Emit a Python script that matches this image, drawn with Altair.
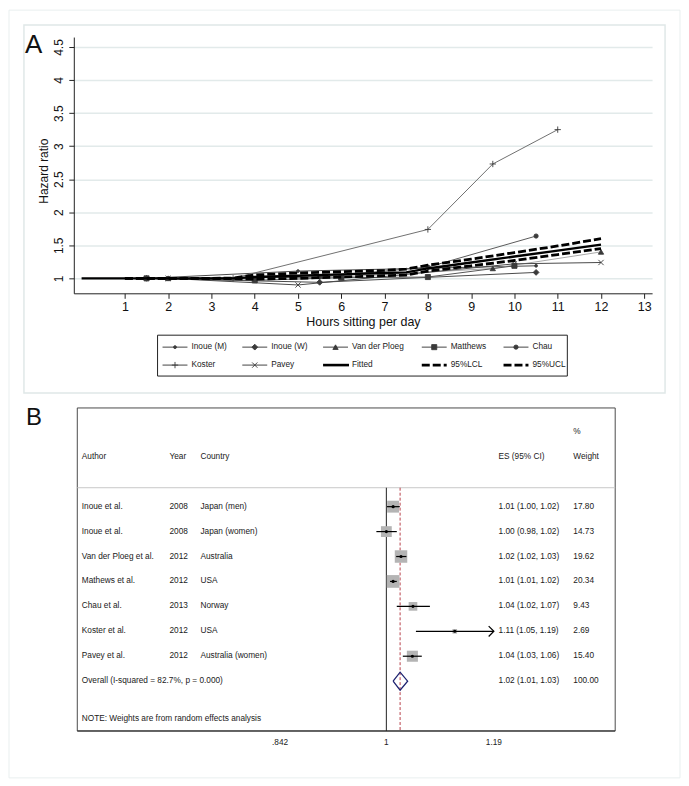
import altair as alt
import pandas as pd

FONT = "Liberation Sans"

# ---------------- Panel A data ----------------
series_names = ["Inoue (M)", "Inoue (W)", "Van der Ploeg", "Matthews", "Chau", "Koster", "Pavey"]
inoue_m_hours = [1.5, 5, 10.5]
inoue_m_hr = [1.00, 1.11, 1.19]
inoue_w_hours = [1.5, 5.5, 10.5]
inoue_w_hr = [1.00, 0.94, 1.09]
vdp_hours = [2, 6, 9.5, 12]
vdp_hr = [1.00, 1.02, 1.15, 1.40]
matthews_hours = [1.5, 4, 6, 8, 10]
matthews_hr = [1.00, 0.97, 1.01, 1.02, 1.19]
chau_hours = [2, 5.5, 8, 10.5]
chau_hr = [1.00, 1.02, 1.17, 1.64]
koster_hours = [3.5, 8, 9.5, 11]
koster_hr = [1.00, 1.74, 2.73, 3.25]
pavey_hours = [2, 5, 10, 12]
pavey_hr = [1.00, 0.90, 1.22, 1.24]

fit_hours = [0, 1, 2, 3, 3.5, 4, 5, 6, 7, 7.5, 8, 9, 10, 11, 12]
fit_hr = [1.00, 1.00, 1.00, 1.00, 1.00, 1.02, 1.04, 1.06, 1.08, 1.09, 1.15, 1.24, 1.33, 1.42, 1.51]
ci_hours = [1, 2, 3, 3.5, 4, 5, 6, 7, 7.5, 8, 9, 10, 11, 12]
lcl_hr = [1.00, 1.00, 1.00, 0.995, 0.99, 1.00, 1.02, 1.04, 1.05, 1.11, 1.19, 1.27, 1.36, 1.45]
ucl_hr = [1.00, 1.00, 1.00, 1.005, 1.05, 1.08, 1.10, 1.12, 1.14, 1.20, 1.29, 1.39, 1.49, 1.60]

legend_labels = series_names + ["Fitted", "95%LCL", "95%UCL"]
x_ticks = list(range(1, 14))
y_ticks = [1, 1.5, 2, 2.5, 3, 3.5, 4, 4.5]

# ---------------- Panel B data ----------------
authors = ["Inoue et al.", "Inoue et al.", "Van der Ploeg et al.", "Mathews et al.",
           "Chau et al.", "Koster et al.", "Pavey et al."]
years = ["2008", "2008", "2012", "2012", "2013", "2012", "2012"]
countries = ["Japan (men)", "Japan (women)", "Australia", "USA", "Norway", "USA", "Australia (women)"]
es = [1.011, 1.000, 1.024, 1.011, 1.044, 1.117, 1.043]
ci_low = [1.001, 0.984, 1.016, 1.006, 1.017, 1.049, 1.027]
ci_high = [1.022, 1.017, 1.033, 1.017, 1.073, 1.19, 1.059]
weights = [17.80, 14.73, 19.62, 20.34, 9.43, 2.69, 15.40]
es_labels = ["1.01 (1.00, 1.02)", "1.00 (0.98, 1.02)", "1.02 (1.02, 1.03)", "1.01 (1.01, 1.02)",
             "1.04 (1.02, 1.07)", "1.11 (1.05, 1.19)", "1.04 (1.03, 1.06)"]
weight_labels = ["17.80", "14.73", "19.62", "20.34", "9.43", "2.69", "15.40"]
overall_label = "Overall  (I-squared = 82.7%, p = 0.000)"
overall_es, overall_low, overall_high = 1.0225, 1.011, 1.035
overall_es_label = "1.02 (1.01, 1.03)"
overall_weight_label = "100.00"
note_text = "NOTE: Weights are from random effects analysis"
header_labels = ["Author", "Year", "Country", "ES (95% CI)", "Weight"]
forest_ticks = [0.842, 1, 1.19]
forest_tick_labels = [".842", "1", "1.19"]

# ---------------- styles ----------------
line_colors = ["#4a4a4a", "#4a4a4a", "#a8a8a8", "#555555", "#5a5a5a", "#707070", "#4a4a4a"]
marker_shapes = ["circle", "diamond", "triangle-up", "square", "circle",
                 "M-1,0H1M0,-1V1", "M-1,-1L1,1M-1,1L1,-1"]
marker_sizes = [8, 34, 28, 26, 18, 40, 28]
MCOL = "#3a3a3a"

# ---------------- Panel A ----------------
xA_axis = alt.Axis(orient="bottom", values=x_ticks, title="Hours sitting per day", grid=False,
                   tickSize=5, labelFontSize=12.5, labelPadding=2, labelFlush=False,
                   titleFontSize=12.5, titleFontWeight="normal", titleY=28, titleBaseline="middle",
                   domainColor="#222222", tickColor="#222222", labelColor="#111111", titleColor="#111111",
                   labelFont=FONT, titleFont=FONT)
yA_axis = alt.Axis(orient="left", values=y_ticks, title="Hazard ratio", grid=True, gridColor="#e2eaea",
                   gridWidth=1.5, tickSize=5, labelAngle=270, labelAlign="center", labelBaseline="bottom",
                   labelPadding=3, labelFontSize=12, format="~g",
                   titleFontSize=12, titleFontWeight="normal", titleAngle=270, titleX=-30, titleY=134,
                   titleAlign="center", titleBaseline="middle",
                   domainColor="#222222", tickColor="#222222", labelColor="#111111", titleColor="#111111",
                   labelFont=FONT, titleFont=FONT)
xA = alt.X("hours:Q", scale=alt.Scale(domain=[-0.18, 13.18], nice=False, zero=False), axis=xA_axis)
yA = alt.Y("hr:Q", scale=alt.Scale(domain=[0.774, 4.65], nice=False, zero=False), axis=yA_axis)

study_hours = [inoue_m_hours, inoue_w_hours, vdp_hours, matthews_hours, chau_hours, koster_hours, pavey_hours]
study_hr = [inoue_m_hr, inoue_w_hr, vdp_hr, matthews_hr, chau_hr, koster_hr, pavey_hr]

a_layers = []
for name, hs, vs, col in zip(series_names, study_hours, study_hr, line_colors):
    df = pd.DataFrame({"hours": hs, "hr": vs, "series": name})
    a_layers.append(alt.Chart(df).mark_line(color=col, strokeWidth=1).encode(x=xA, y=yA))
for name, hs, vs, shp, sz in zip(series_names, study_hours, study_hr, marker_shapes, marker_sizes):
    df = pd.DataFrame({"hours": hs, "hr": vs, "series": name})
    a_layers.append(alt.Chart(df).mark_point(shape=shp, size=sz, filled=True, fill=MCOL, stroke=MCOL,
                                             strokeWidth=0.9, opacity=1).encode(x=xA, y=yA))

ci_df = pd.concat([
    pd.DataFrame({"hours": ci_hours, "hr": lcl_hr, "band": "95%LCL"}),
    pd.DataFrame({"hours": ci_hours, "hr": ucl_hr, "band": "95%UCL"}),
])
fit_df = pd.DataFrame({"hours": fit_hours, "hr": fit_hr})
a_layers.append(alt.Chart(ci_df).mark_line(color="black", strokeWidth=2.8, strokeDash=[8, 3])
                .encode(x=xA, y=yA, detail="band:N"))
a_layers.append(alt.Chart(fit_df).mark_line(color="black", strokeWidth=2.4).encode(x=xA, y=yA))
panel_a = alt.layer(*a_layers)

# ---------------- Legend of panel A ----------------
leg = pd.DataFrame({"label": legend_labels})
leg["col"] = leg.index % 5
leg["row"] = leg.index // 5
# column starts follow Stata's legend columns (wider third column)
lx = alt.Scale(domain=[0, 1, 2, 3, 4], range=[89, 169, 250, 349, 431], nice=False, zero=False)
ly = alt.Scale(domain=[-17.278, -3.0], reverse=True, nice=False, zero=False)
LX = alt.X("col:Q", scale=lx, axis=None)
LY = alt.Y("row:Q", scale=ly, axis=None)

one = pd.DataFrame({"k": [0]})
l_layers = [
    alt.Chart(one).mark_rect(fillOpacity=0, stroke="#222222", strokeWidth=1).encode(
        x=alt.value(84), x2=alt.value(495), y=alt.value(299), y2=alt.value(340)),
    alt.Chart(leg.iloc[:7]).mark_rule(color="#444444", strokeWidth=1, x2Offset=25).encode(
        x=LX, x2="col:Q", y=LY),
    alt.Chart(leg.iloc[7:8]).mark_rule(color="black", strokeWidth=2.6, x2Offset=26).encode(
        x=LX, x2="col:Q", y=LY),
    alt.Chart(leg.iloc[8:]).mark_rule(color="black", strokeWidth=2.6, strokeDash=[8, 3], x2Offset=25).encode(
        x=LX, x2="col:Q", y=LY),
]
for i, (shp, sz) in enumerate(zip(marker_shapes, marker_sizes)):
    l_layers.append(alt.Chart(leg.iloc[i:i + 1]).mark_point(shape=shp, size=sz, filled=True, fill=MCOL,
                                                             stroke=MCOL, strokeWidth=0.9, opacity=1,
                                                             xOffset=12.5).encode(x=LX, y=LY))
l_layers.append(alt.Chart(leg).mark_text(align="left", baseline="middle", fontSize=8.3, font=FONT,
                                         color="#222222", dx=29).encode(x=LX, y=LY, text="label:N"))
legend_a = alt.layer(*l_layers)

# ---------------- Panel B (forest plot) ----------------
xB_scale = alt.Scale(type="log", domain=[0.60315, 1.53704], nice=False)
yB_scale = alt.Scale(domain=[-17.84, -7.56], reverse=True, nice=False, zero=False)

forest = pd.DataFrame({"author": authors, "year": years, "country": countries, "es": es,
                       "lo": ci_low, "hi": ci_high, "w": weights, "es_lab": es_labels, "w_lab": weight_labels})
forest["row"] = range(1, len(authors) + 1)
axis_max = max(forest_ticks)
forest["hi_draw"] = forest["hi"].clip(upper=axis_max)
overall_row = len(authors) + 1
overall = pd.DataFrame({"author": [overall_label], "es_lab": [overall_es_label],
                        "w_lab": [overall_weight_label], "row": [overall_row]})
texts = pd.concat([forest[["author", "year", "country", "es_lab", "w_lab", "row"]], overall])
texts = texts.fillna("")

yB = alt.Y("row:Q", scale=yB_scale, axis=None)
col_px = [8, 96, 127, 426, 501]
col_fields = ["author", "year", "country", "es_lab", "w_lab"]

ticks_df = pd.DataFrame({"t": forest_ticks, "lab": forest_tick_labels})

b_layers = [
    # frame
    alt.Chart(one).mark_rect(fillOpacity=0, stroke="#4a4a4a", strokeWidth=1).encode(
        x=alt.value(3.5), x2=alt.value(543), y=alt.value(372), y2=alt.value(696)),
    alt.Chart(one).mark_rule(color="#222222", strokeWidth=1).encode(
        x=alt.value(3.5), x2=alt.value(543), y=alt.value(696)),
    # header separator
    alt.Chart(one).mark_rule(color="#c8c8c8", strokeWidth=1).encode(
        x=alt.value(3.5), x2=alt.value(543), y=alt.value(452)),
    # null line
    alt.Chart(pd.DataFrame({"v": [1.0]})).mark_rule(color="#222222", strokeWidth=1).encode(
        x=alt.X("v:Q", scale=xB_scale, axis=None), y=alt.value(452), y2=alt.value(696)),
    # overall effect line
    alt.Chart(pd.DataFrame({"v": [overall_es]})).mark_rule(color="#b8404a", strokeWidth=1,
                                                          strokeDash=[3, 2]).encode(
        x=alt.X("v:Q", scale=xB_scale, axis=None), y=alt.value(452), y2=alt.value(696)),
    # tick labels of the effect axis
    alt.Chart(ticks_df).mark_text(baseline="middle", align="center", fontSize=8.3, font=FONT,
                                  color="#222222").encode(
        x=alt.X("t:Q", scale=xB_scale, axis=None), y=alt.value(708), text="lab:N"),
    # weight boxes
    alt.Chart(forest).mark_square(color="#b4b4b4", opacity=1).encode(
        x=alt.X("es:Q", scale=xB_scale, axis=None), y=yB,
        size=alt.Size("w:Q", scale=alt.Scale(domain=[0, 20], range=[0, 160]), legend=None)),
    # CIs
    alt.Chart(forest).mark_rule(color="black", strokeWidth=1.2).encode(
        x=alt.X("lo:Q", scale=xB_scale, axis=None), x2="hi_draw:Q", y=yB),
    # point estimates
    alt.Chart(forest).mark_point(shape="circle", size=10, filled=True, color="black", opacity=1).encode(
        x=alt.X("es:Q", scale=xB_scale, axis=None), y=yB),
    # arrows for truncated CIs
    alt.Chart(forest[forest["hi"] >= axis_max]).mark_point(shape="M-1,-1L0,0L-1,1", size=110, filled=False,
                                                           color="black", strokeWidth=1.2, opacity=1).encode(
        x=alt.X("hi_draw:Q", scale=xB_scale, axis=None), y=yB),
]
# overall diamond
dia = pd.DataFrame({"v": [overall_low, overall_es, overall_high, overall_es, overall_low],
                    "row": [overall_row, overall_row - 0.36, overall_row, overall_row + 0.36, overall_row],
                    "ord": [0, 1, 2, 3, 4]})
b_layers.append(alt.Chart(dia).mark_line(color="#1d2270", strokeWidth=1.3).encode(
    x=alt.X("v:Q", scale=xB_scale, axis=None), y=yB, order="ord:Q"))
# text columns
for fld, px in zip(col_fields, col_px):
    b_layers.append(alt.Chart(texts).mark_text(align="left", baseline="middle", fontSize=8.3, font=FONT,
                                               color="#1a1a1a").encode(
        x=alt.value(px), y=yB, text=f"{fld}:N"))
# headers
hdr = pd.DataFrame({"label": header_labels, "row": [-1] * len(header_labels)})
for i, px in enumerate(col_px):
    b_layers.append(alt.Chart(hdr.iloc[i:i + 1]).mark_text(align="left", baseline="middle", fontSize=8.3,
                                                           font=FONT, color="#1a1a1a").encode(
        x=alt.value(px), y=yB, text="label:N"))
b_layers.append(alt.Chart(pd.DataFrame({"label": ["%"], "row": [-2]})).mark_text(
    align="left", baseline="middle", fontSize=8.3, font=FONT, color="#1a1a1a").encode(
    x=alt.value(col_px[4]), y=yB, text="label:N"))
b_layers.append(alt.Chart(pd.DataFrame({"label": [note_text], "row": [overall_row + 1.52]})).mark_text(
    align="left", baseline="middle", fontSize=8.3, font=FONT, color="#1a1a1a").encode(
    x=alt.value(col_px[0]), y=yB, text="label:N"))
panel_b = alt.layer(*b_layers)

# ---------------- decorations ----------------
deco = alt.layer(
    alt.Chart(one).mark_rect(fillOpacity=0, stroke="#e9efef", strokeWidth=1).encode(
        x=alt.value(-65), x2=alt.value(608), y=alt.value(-27), y2=alt.value(743)),
    alt.Chart(one).mark_rect(fillOpacity=0, stroke="#e0e8e8", strokeWidth=1.5).encode(
        x=alt.value(-50), x2=alt.value(593), y=alt.value(-12), y2=alt.value(357)),
    alt.Chart(one).mark_text(text="A", fontSize=26, align="left", font=FONT, color="#111111").encode(
        x=alt.value(-49), y=alt.value(8)),
    alt.Chart(one).mark_text(text="B", fontSize=24, align="left", font=FONT, color="#111111").encode(
        x=alt.value(-48), y=alt.value(382)),
)

chart = alt.layer(deco, panel_a, legend_a, panel_b).resolve_scale(
    x="independent", y="independent"
).properties(width=580, height=257, padding=0).configure(font=FONT).configure_view(strokeWidth=0)

chart.save("out.html", embed_options={"renderer": "svg", "actions": False})
